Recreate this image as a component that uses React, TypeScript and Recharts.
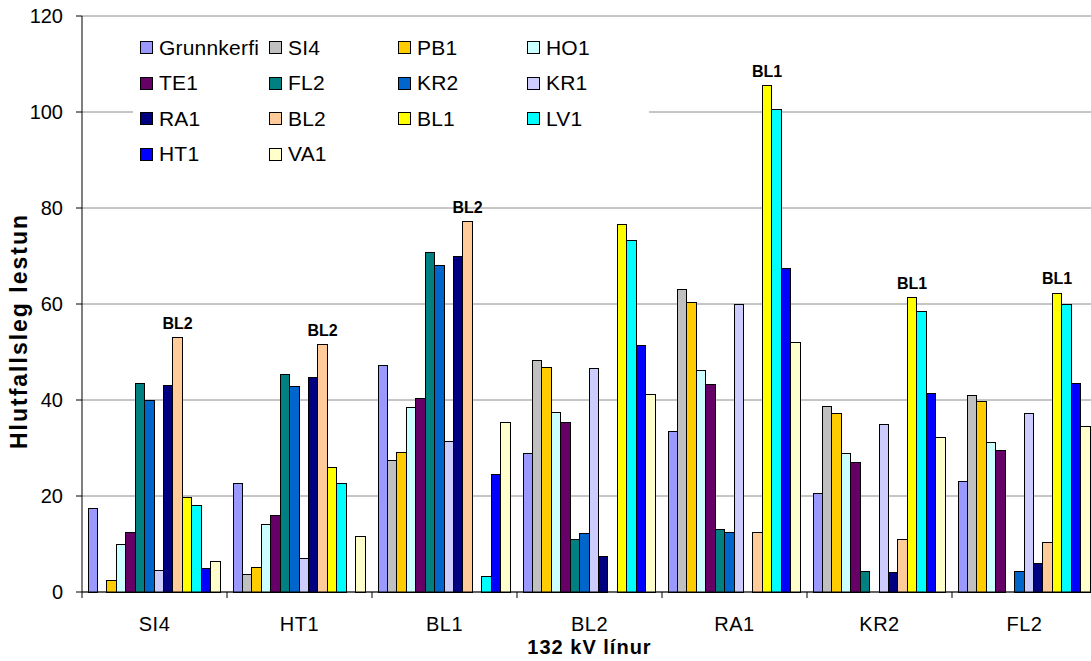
import { BarChart, Bar, XAxis, YAxis, CartesianGrid, Legend, LabelList } from 'recharts';

// 132 kV lines (x-axis categories)
const categories = ['SI4', 'HT1', 'BL1', 'BL2', 'RA1', 'KR2', 'FL2'];

// relative loading per case, one value per category (null = not drawn)
const grunnkerfi = [17.4, 22.6, 47.2, 28.8, 33.4, 20.5, 23.1];
const si4 = [null, 3.7, 27.3, 48.3, 63.1, 38.7, 41.0];
const pb1 = [2.4, 5.1, 29.0, 46.7, 60.3, 37.2, 39.7];
const ho1 = [9.9, 14.0, 38.4, 37.4, 46.1, 28.9, 31.2];
const te1 = [12.3, 16.0, 40.4, 35.3, 43.2, 26.9, 29.4];
const fl2 = [43.5, 45.3, 70.8, 10.9, 13.0, 4.2, null];
const kr2 = [40.0, 42.8, 68.0, 12.1, 12.3, null, 4.3];
const kr1 = [4.4, 7.0, 31.4, 46.5, 59.9, 34.9, 37.2];
const ra1 = [43.0, 44.6, 69.9, 7.3, null, 4.0, 5.9];
const bl2 = [53.0, 51.5, 77.1, null, 12.3, 11.0, 10.4];
const bl1 = [19.7, 25.9, null, 76.5, 105.5, 61.3, 62.2];
const lv1 = [18.0, 22.7, 3.2, 73.3, 100.6, 58.5, 59.9];
const ht1 = [4.8, null, 24.4, 51.4, 67.5, 41.3, 43.5];
const va1 = [6.3, 11.5, 35.3, 41.2, 52.0, 32.1, 34.5];

const yTicks = [0, 20, 40, 60, 80, 100, 120];

const series = [
  { key: 'Grunnkerfi', values: grunnkerfi, color: '#9999FF' },
  { key: 'SI4', values: si4, color: '#C0C0C0' },
  { key: 'PB1', values: pb1, color: '#FFCC00' },
  { key: 'HO1', values: ho1, color: '#CCFFFF' },
  { key: 'TE1', values: te1, color: '#660066' },
  { key: 'FL2', values: fl2, color: '#008080' },
  { key: 'KR2', values: kr2, color: '#0066CC' },
  { key: 'KR1', values: kr1, color: '#CCCCFF' },
  { key: 'RA1', values: ra1, color: '#000080' },
  { key: 'BL2', values: bl2, color: '#FFCC99' },
  { key: 'BL1', values: bl1, color: '#FFFF00' },
  { key: 'LV1', values: lv1, color: '#00FFFF' },
  { key: 'HT1', values: ht1, color: '#0000FF' },
  { key: 'VA1', values: va1, color: '#FFFFCC' },
];

const data = categories.map((name, i) => {
  const row: Record<string, any> = { name };
  series.forEach((s) => { row[s.key] = s.values[i]; });
  return row;
});

// name of the highest bar in each group, written above it
const peakName = categories.map((_, i) => {
  let best = series[0];
  series.forEach((s) => { if ((s.values[i] ?? -1) > (best.values[i] ?? -1)) best = s; });
  return best.key;
});

const FONT = '"Liberation Sans", Arial, sans-serif';
const W = 1100;
const H = 661;
const Y_AXIS_W = 82;
const X_AXIS_H = 69;
const MARGIN = { top: 16, right: 3, bottom: 0, left: 0 };
const PLOT_BOTTOM = H - X_AXIS_H;
const BAND = (W - Y_AXIS_W - MARGIN.right) / categories.length;
const Y_TITLE_X = 27;
const Y_TITLE_Y = 331;

const CategoryTick = (props: any) => {
  const { x, payload } = props;
  return (
    <g>
      <line x1={x - BAND / 2} x2={x - BAND / 2} y1={PLOT_BOTTOM} y2={PLOT_BOTTOM + 6} stroke="#000" />
      <text x={x} y={PLOT_BOTTOM + 39} textAnchor="middle" fontFamily={FONT} fontSize={20} fill="#000" letterSpacing={0.5}>
        {payload.value}
      </text>
    </g>
  );
};

const renderPeak = (name: string) => (p: any) => {
  if (peakName[p.index] !== name) return null;
  return (
    <text x={p.x + p.width / 2} y={p.y - 9} textAnchor="middle" fontFamily={FONT} fontSize={16} fontWeight="bold" fill="#000">
      {name}
    </text>
  );
};

const renderLegend = () => (
  <div
    style={{
      display: 'grid',
      gridTemplateColumns: '129px 129px 129px 129px',
      gridAutoRows: '35.5px',
      paddingLeft: 7,
      background: '#fff',
      fontFamily: FONT,
      fontSize: 21,
      letterSpacing: 0.2,
      height: '100%',
      boxSizing: 'border-box',
    }}
  >
    {series.map((s) => (
      <div key={s.key} style={{ display: 'flex', alignItems: 'center' }}>
        <span style={{ width: 11, height: 11, border: '1px solid #000', background: s.color, marginRight: 6, flex: 'none' }} />
        <span>{s.key}</span>
      </div>
    ))}
  </div>
);

export default function App() {
  return (
    <div style={{ position: 'absolute', left: 0, top: 0, width: 1091, height: 661, overflow: 'hidden', background: '#fff' }}>
      <BarChart width={W} height={H} data={data} margin={MARGIN} barGap={0} barSize={9.43}>
        <CartesianGrid vertical={false} stroke="#8c8c8c" />
        <XAxis
          dataKey="name"
          height={X_AXIS_H}
          stroke="#000"
          tickLine={false}
          tick={<CategoryTick />}
          interval={0}
          label={{
            content: () => (
              <text x={Y_AXIS_W + (W - Y_AXIS_W - MARGIN.right) / 2} y={H - 7} textAnchor="middle" fontFamily={FONT} fontSize={20} fontWeight="bold" letterSpacing={1} fill="#000">
                132 kV línur
              </text>
            ),
          }}
        />
        <YAxis
          width={Y_AXIS_W}
          domain={[0, 120]}
          ticks={yTicks}
          stroke="#000"
          tickSize={6}
          tickMargin={13}
          tick={{ fontFamily: FONT, fontSize: 20, fill: '#000' }}
          label={{
            content: () => (
              <text
                x={Y_TITLE_X}
                y={Y_TITLE_Y}
                transform={`rotate(-90 ${Y_TITLE_X} ${Y_TITLE_Y})`}
                textAnchor="middle"
                fontFamily={FONT}
                fontSize={23}
                fontWeight="bold"
                letterSpacing={2}
                fill="#000"
              >
                Hlutfallsleg lestun
              </text>
            ),
          }}
        />
        <Legend
          layout="horizontal"
          verticalAlign="middle"
          align="center"
          content={renderLegend}
          wrapperStyle={{ left: 133, top: 30, width: 516, height: 142 }}
        />
        {series.map((s) => (
          <Bar
            key={s.key}
            dataKey={s.key}
            fill={s.color}
            stroke="#000"
            strokeWidth={1}
            shapeRendering="crispEdges"
            isAnimationActive={false}
          >
            <LabelList dataKey={s.key} content={renderPeak(s.key)} />
          </Bar>
        ))}
      </BarChart>
    </div>
  );
}
